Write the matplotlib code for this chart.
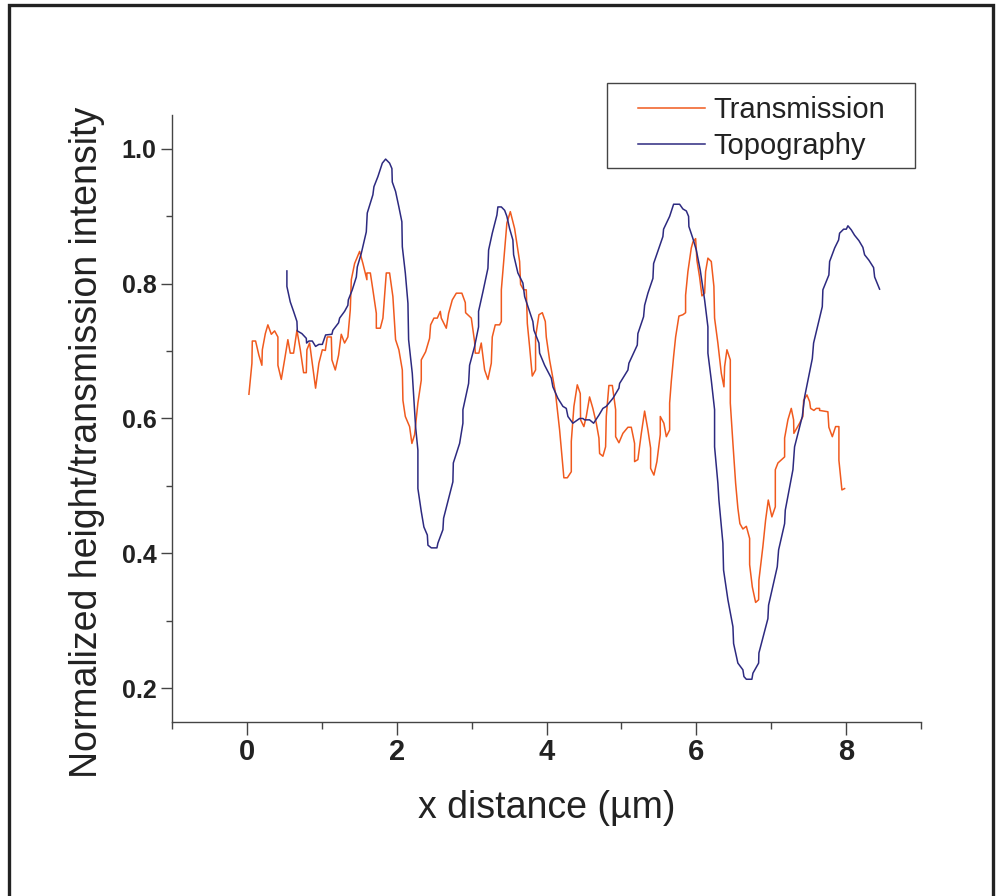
import matplotlib
matplotlib.use("Agg")
import matplotlib.pyplot as plt
from matplotlib.patches import Rectangle
from matplotlib.ticker import MultipleLocator

# x distance (um) / normalized value
topo_x = [0.534, 0.534, 0.579, 0.623, 0.668, 0.673, 0.734, 0.793, 0.797, 0.828, 0.873, 0.917,
          0.961, 1.007, 1.051, 1.135, 1.148, 1.224, 1.238, 1.304, 1.348, 1.354, 1.407, 1.461,
          1.474, 1.527, 1.594, 1.607, 1.682, 1.696, 1.749, 1.808, 1.852, 1.905, 1.936, 1.941,
          1.985, 2.029, 2.069, 2.075, 2.115, 2.150, 2.159, 2.208, 2.252, 2.283, 2.283, 2.328,
          2.363, 2.409, 2.417, 2.462, 2.537, 2.550, 2.617, 2.626, 2.750, 2.756, 2.840, 2.884,
          2.884, 2.960, 2.973, 3.040, 3.093, 3.093, 3.151, 3.218, 3.227, 3.276, 3.338, 3.351,
          3.397, 3.441, 3.471, 3.507, 3.551, 3.561, 3.618, 3.685, 3.708, 3.774, 3.818, 3.832,
          3.899, 3.908, 3.975, 4.064, 4.085, 4.152, 4.219, 4.264, 4.286, 4.352, 4.442, 4.486,
          4.509, 4.575, 4.629, 4.700, 4.753, 4.798, 4.887, 4.967, 4.976, 5.087, 5.100, 5.212,
          5.220, 5.296, 5.310, 5.354, 5.421, 5.430, 5.554, 5.563, 5.644, 5.697, 5.777, 5.821,
          5.867, 5.897, 5.901, 5.955, 6.000, 6.053, 6.111, 6.155, 6.155, 6.200, 6.244, 6.244,
          6.288, 6.302, 6.355, 6.364, 6.422, 6.489, 6.498, 6.555, 6.622, 6.636, 6.668, 6.742,
          6.756, 6.832, 6.836, 6.956, 6.965, 7.081, 7.099, 7.179, 7.188, 7.290, 7.312, 7.415,
          7.446, 7.549, 7.566, 7.682, 7.690, 7.770, 7.780, 7.847, 7.900, 7.913, 7.967, 8.003,
          8.024, 8.069, 8.113, 8.171, 8.224, 8.247, 8.304, 8.367, 8.381, 8.411, 8.447]
topo_y = [0.819, 0.796, 0.773, 0.759, 0.744, 0.730, 0.726, 0.719, 0.712, 0.715, 0.715, 0.707,
          0.710, 0.710, 0.724, 0.725, 0.731, 0.742, 0.749, 0.759, 0.768, 0.776, 0.791, 0.810,
          0.825, 0.845, 0.877, 0.905, 0.932, 0.944, 0.959, 0.979, 0.985, 0.979, 0.971, 0.951,
          0.937, 0.914, 0.892, 0.855, 0.816, 0.771, 0.717, 0.667, 0.588, 0.553, 0.496, 0.462,
          0.439, 0.427, 0.412, 0.408, 0.408, 0.415, 0.435, 0.452, 0.506, 0.534, 0.563, 0.593,
          0.613, 0.652, 0.679, 0.707, 0.736, 0.759, 0.788, 0.823, 0.850, 0.875, 0.902, 0.914,
          0.914, 0.909, 0.900, 0.882, 0.865, 0.843, 0.816, 0.801, 0.781, 0.759, 0.744, 0.731,
          0.712, 0.697, 0.679, 0.660, 0.647, 0.630, 0.618, 0.615, 0.603, 0.593, 0.600, 0.600,
          0.598, 0.598, 0.593, 0.605, 0.615, 0.618, 0.630, 0.645, 0.652, 0.672, 0.682, 0.709,
          0.726, 0.751, 0.768, 0.786, 0.808, 0.830, 0.870, 0.881, 0.900, 0.918, 0.918, 0.911,
          0.908, 0.900, 0.885, 0.867, 0.850, 0.820, 0.776, 0.736, 0.697, 0.657, 0.613, 0.558,
          0.504, 0.479, 0.415, 0.375, 0.331, 0.291, 0.266, 0.237, 0.227, 0.217, 0.213, 0.213,
          0.222, 0.237, 0.252, 0.303, 0.323, 0.380, 0.405, 0.444, 0.464, 0.524, 0.558, 0.603,
          0.632, 0.689, 0.712, 0.766, 0.791, 0.813, 0.833, 0.853, 0.865, 0.875, 0.881, 0.881,
          0.886, 0.880, 0.872, 0.864, 0.854, 0.843, 0.835, 0.824, 0.810, 0.802, 0.792]

trans_x = [0.027, 0.067, 0.072, 0.116, 0.160, 0.200, 0.206, 0.246, 0.280, 0.326, 0.370, 0.414,
           0.414, 0.459, 0.503, 0.547, 0.579, 0.623, 0.668, 0.713, 0.757, 0.793, 0.801, 0.837,
           0.873, 0.917, 0.961, 1.007, 1.047, 1.073, 1.127, 1.135, 1.180, 1.224, 1.260, 1.304,
           1.348, 1.380, 1.394, 1.438, 1.505, 1.549, 1.602, 1.602, 1.648, 1.682, 1.728, 1.728,
           1.781, 1.816, 1.861, 1.905, 1.949, 1.985, 2.029, 2.075, 2.083, 2.115, 2.172, 2.203,
           2.239, 2.283, 2.328, 2.328, 2.386, 2.439, 2.453, 2.497, 2.542, 2.582, 2.595, 2.630,
           2.662, 2.693, 2.742, 2.796, 2.870, 2.916, 2.920, 2.996, 3.040, 3.049, 3.097, 3.129,
           3.174, 3.218, 3.263, 3.276, 3.316, 3.374, 3.397, 3.397, 3.441, 3.471, 3.517, 3.574,
           3.641, 3.654, 3.694, 3.730, 3.744, 3.774, 3.810, 3.854, 3.854, 3.899, 3.944, 3.984,
           3.997, 4.041, 4.077, 4.121, 4.175, 4.232, 4.278, 4.331, 4.331, 4.366, 4.411, 4.451,
           4.455, 4.499, 4.531, 4.575, 4.619, 4.665, 4.700, 4.709, 4.753, 4.789, 4.798, 4.833,
           4.879, 4.923, 4.923, 4.967, 5.020, 5.087, 5.132, 5.176, 5.176, 5.220, 5.266, 5.310,
           5.354, 5.390, 5.390, 5.434, 5.474, 5.519, 5.519, 5.567, 5.600, 5.644, 5.644, 5.666,
           5.697, 5.724, 5.768, 5.821, 5.857, 5.857, 5.888, 5.933, 5.955, 5.991, 6.008, 6.044,
           6.075, 6.111, 6.124, 6.155, 6.200, 6.235, 6.244, 6.288, 6.334, 6.369, 6.378, 6.409,
           6.454, 6.454, 6.489, 6.525, 6.555, 6.582, 6.622, 6.668, 6.712, 6.712, 6.748, 6.792,
           6.832, 6.836, 6.889, 6.925, 6.961, 7.009, 7.055, 7.055, 7.090, 7.179, 7.179, 7.223,
           7.268, 7.299, 7.303, 7.379, 7.423, 7.433, 7.477, 7.513, 7.526, 7.570, 7.602, 7.646,
           7.646, 7.757, 7.770, 7.816, 7.860, 7.904, 7.904, 7.944, 7.980]
trans_y = [0.636, 0.682, 0.715, 0.715, 0.694, 0.679, 0.702, 0.726, 0.739, 0.725, 0.730, 0.721,
           0.679, 0.658, 0.687, 0.717, 0.697, 0.697, 0.731, 0.702, 0.668, 0.668, 0.702, 0.712,
           0.682, 0.645, 0.682, 0.702, 0.701, 0.721, 0.721, 0.687, 0.672, 0.694, 0.725, 0.712,
           0.721, 0.761, 0.806, 0.830, 0.848, 0.830, 0.806, 0.816, 0.816, 0.791, 0.756, 0.734,
           0.734, 0.749, 0.816, 0.816, 0.781, 0.717, 0.702, 0.672, 0.627, 0.603, 0.588, 0.563,
           0.576, 0.623, 0.657, 0.687, 0.699, 0.719, 0.739, 0.749, 0.749, 0.759, 0.749, 0.741,
           0.734, 0.756, 0.776, 0.786, 0.786, 0.772, 0.757, 0.749, 0.714, 0.697, 0.697, 0.712,
           0.672, 0.658, 0.682, 0.721, 0.739, 0.739, 0.744, 0.791, 0.850, 0.890, 0.907, 0.882,
           0.833, 0.799, 0.791, 0.791, 0.741, 0.707, 0.663, 0.672, 0.721, 0.754, 0.757, 0.744,
           0.721, 0.687, 0.665, 0.637, 0.583, 0.512, 0.512, 0.521, 0.566, 0.618, 0.650, 0.637,
           0.598, 0.588, 0.603, 0.632, 0.615, 0.593, 0.571, 0.548, 0.544, 0.558, 0.603, 0.649,
           0.649, 0.613, 0.573, 0.564, 0.578, 0.587, 0.587, 0.563, 0.536, 0.539, 0.578, 0.611,
           0.583, 0.556, 0.526, 0.516, 0.536, 0.576, 0.603, 0.593, 0.573, 0.583, 0.623, 0.655,
           0.692, 0.721, 0.752, 0.754, 0.757, 0.783, 0.818, 0.853, 0.862, 0.867, 0.835, 0.810,
           0.782, 0.786, 0.818, 0.838, 0.833, 0.796, 0.749, 0.712, 0.667, 0.647, 0.677, 0.702,
           0.687, 0.623, 0.563, 0.504, 0.467, 0.444, 0.436, 0.440, 0.422, 0.383, 0.350, 0.327,
           0.331, 0.360, 0.410, 0.449, 0.479, 0.454, 0.469, 0.524, 0.534, 0.543, 0.571, 0.598,
           0.615, 0.598, 0.578, 0.593, 0.603, 0.627, 0.635, 0.625, 0.615, 0.612, 0.615, 0.615,
           0.612, 0.610, 0.587, 0.573, 0.588, 0.588, 0.538, 0.494, 0.496]

x_ticks = [0, 2, 4, 6, 8]
y_ticks = [0.2, 0.4, 0.6, 0.8, 1.0]

plt.rcParams['font.family'] = ['Liberation Sans', 'DejaVu Sans']

W, H = 996, 896
fig = plt.figure(figsize=(W / 100, H / 100), dpi=100)
ax = fig.add_axes([172 / W, 1 - 721.7 / H, 749 / W, 606.4 / H])

ax.plot(trans_x, trans_y, color='#f05a1e', lw=1.1, label='Transmission')
ax.plot(topo_x, topo_y, color='#2d2a80', lw=1.1, label='Topography')

ax.set_xlim(-1, 9)
ax.set_ylim(0.15, 1.05)
ax.set_xticks(x_ticks)
ax.set_yticks(y_ticks)
ax.xaxis.set_minor_locator(MultipleLocator(1))
ax.yaxis.set_minor_locator(MultipleLocator(0.1))
ax.set_yticklabels(['%.1f' % v for v in y_ticks])

for s in ['top', 'right']:
    ax.spines[s].set_visible(False)
for s in ['left', 'bottom']:
    ax.spines[s].set_color('#444444')
    ax.spines[s].set_linewidth(1.0)

ax.tick_params(axis='both', which='both', direction='out', color='#444444', width=1.0)
ax.tick_params(axis='x', which='major', length=9, pad=3)
ax.tick_params(axis='x', which='minor', length=5)
ax.tick_params(axis='y', which='major', length=8, pad=3)
ax.tick_params(axis='y', which='minor', length=4)
for lab in ax.get_xticklabels():
    lab.set_fontweight('bold')
    lab.set_fontsize(21)
    lab.set_color('#222222')
for lab in ax.get_yticklabels():
    lab.set_fontweight('bold')
    lab.set_fontsize(18)
    lab.set_color('#222222')

ax.set_xlabel('x distance (µm)', fontsize=27, color='#222222')
ax.xaxis.set_label_coords(0.5, -0.113)
ax.set_ylabel('Normalized height/transmission intensity', fontsize=27, color='#222222')
ax.yaxis.set_label_coords(-0.09, 0.461)

leg = ax.legend(frameon=False, loc='upper left', bbox_to_anchor=(638 / W, 1 - 96 / H),
                bbox_transform=fig.transFigure, borderpad=0, borderaxespad=0,
                handlelength=2.3, handletextpad=0.27, labelspacing=0.27, fontsize=21)
for t in leg.get_texts():
    t.set_color('#222222')

# legend box and outer frame
fig.add_artist(Rectangle((607 / W, 1 - 168 / H), 308 / W, 85 / H, transform=fig.transFigure,
                         fill=False, edgecolor='#444444', lw=1.0))
fig.add_artist(Rectangle((9 / W, -0.1), 984 / W, 1.1 - 5 / H, transform=fig.transFigure,
                         fill=False, edgecolor='#222222', lw=2.4, clip_on=False))

fig.savefig('out.png', dpi=100)
